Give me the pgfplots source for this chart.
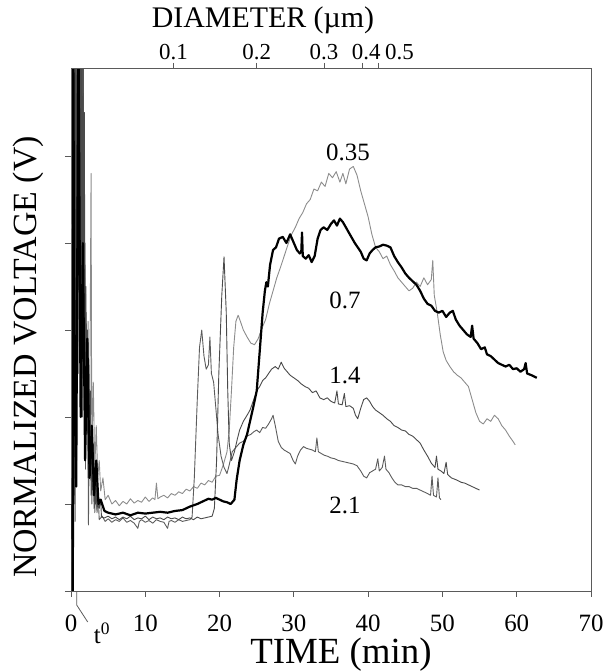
\documentclass[border=0pt]{standalone}
\usepackage{pgfplots}
\pgfplotsset{compat=1.18}
\usepackage{fontspec}
\setmainfont{Liberation Serif}
\definecolor{lg}{HTML}{8C8C8C}
\definecolor{dg}{HTML}{4A4A4A}
\definecolor{mg}{HTML}{5C5C5C}
\definecolor{ax}{HTML}{5A5A5A}
\begin{document}
\begin{tikzpicture}
\begin{axis}[name=ax,
  scale only axis, width=520bp, height=522bp,
  xmin=0, xmax=70, ymin=0, ymax=6,
  xtick={0,10,...,70}, ytick={0,1,...,5}, yticklabels={},
  xtick pos=bottom, ytick pos=left,
  tick align=outside, major tick length=6bp,
  axis line style={ax, line width=1pt}, tick style={ax, line width=0.8pt},
  /pgf/number format/assume math mode=true,
  xticklabel style={font=\fontsize{25}{25}\selectfont, yshift=-14bp},
  every axis plot/.append style={line join=round},
]
% 0.35
\addplot[lg, line width=0.9bp] table {
0.1 1.3
0.15 6.5
0.2 -0.3
0.35 6.5
0.5 1.2
0.7 6.5
0.9 2.5
1.1 6.5
1.3 3.2
1.5 5.0
1.7 2.4
1.9 4.0
2.1 2.0
2.3 3.1
2.5 1.7
2.7 4.8
2.8 1.6
3.0 2.4
3.2 1.4
3.4 1.9
3.6 1.3
3.8 1.5
4.0 1.15
4.3 1.3
4.6 1.05
5.0 1.10
5.5 1.00
6.0 1.04
6.5 0.98
7.0 1.03
7.5 1.00
8.0 1.06
8.5 1.01
9.0 1.04
9.5 1.02
10.0 1.08
10.5 1.03
11.0 1.07
11.3 1.05
11.5 1.24
11.7 1.06
12.0 1.08
12.5 1.10
13.0 1.07
13.5 1.12
14.0 1.10
14.5 1.14
15.0 1.12
15.5 1.17
16.0 1.15
16.5 1.20
17.0 1.18
17.5 1.24
18.0 1.22
18.5 1.27
19.0 1.25
19.5 1.32
20.0 1.33
20.5 1.45
21.0 1.60
21.3 1.85
21.6 2.30
21.9 2.80
22.2 3.10
22.5 3.17
22.8 3.10
23.2 3.00
23.7 2.92
24.2 2.85
24.7 2.83
25.2 2.90
25.7 3.02
26.2 3.12
26.7 3.30
27.2 3.45
27.7 3.60
28.2 3.72
28.7 3.85
29.2 3.98
29.7 4.10
30.2 4.18
30.7 4.28
31.2 4.35
31.7 4.45
32.2 4.50
32.7 4.62
33.2 4.60
33.7 4.70
34.2 4.65
34.7 4.80
35.2 4.75
35.7 4.82
36.2 4.70
36.6 4.80
37.0 4.68
37.5 4.85
38.0 4.88
38.5 4.78
39.0 4.60
39.5 4.45
40.0 4.30
40.5 4.10
41.0 3.95
41.5 3.90
42.0 3.82
42.5 3.85
43.0 3.75
43.5 3.68
44.0 3.60
44.5 3.55
45.0 3.50
45.5 3.45
46.0 3.48
46.5 3.55
47.0 3.50
47.5 3.60
48.0 3.52
48.5 3.58
48.7 3.80
48.9 3.40
49.3 3.20
49.7 2.95
50.1 2.75
50.5 2.65
51.0 2.58
51.5 2.52
52.0 2.48
52.5 2.45
53.0 2.40
53.5 2.35
54.0 2.20
54.5 2.05
55.0 1.95
55.5 1.92
56.0 1.98
56.5 1.95
57.0 2.02
57.5 1.98
58.0 1.90
58.5 1.85
59.0 1.78
59.5 1.72
59.8 1.68
};
% 2.1
\addplot[mg, line width=0.9bp] table {
0.45 6.5
0.55 0.8
0.65 6.5
0.75 1.5
0.85 6.5
0.95 2.5
1.05 6.5
1.15 3.0
1.25 6.5
1.35 3.5
1.45 6.5
1.55 2.0
1.65 6.5
1.75 2.4
1.85 3.6
1.95 1.4
2.05 3.2
2.15 1.9
2.25 2.6
2.35 0.76
2.5 2.2
2.6 1.4
2.7 1.9
2.8 1.0
2.9 1.6
3.0 1.1
3.1 1.45
3.2 0.9
3.35 1.25
3.5 0.95
3.65 1.1
3.8 0.82
4.2 0.86
4.6 0.80
5.0 0.83
5.5 0.79
6.0 0.82
6.5 0.80
7.0 0.84
7.5 0.79
8.0 0.81
8.5 0.78
9.0 0.72
9.2 0.80
9.5 0.82
10.0 0.79
10.5 0.81
11.0 0.78
11.5 0.82
12.0 0.80
12.5 0.79
13.0 0.72
13.2 0.80
13.5 0.81
14.0 0.79
14.5 0.82
15.0 0.80
15.5 0.81
16.0 0.82
16.3 0.85
16.6 1.30
17.0 2.20
17.3 2.80
17.6 3.00
17.9 2.70
18.2 2.55
18.5 2.60
18.7 2.92
18.9 2.50
19.2 2.40
19.5 2.10
19.8 1.80
20.2 1.55
20.6 1.42
21.0 1.35
21.3 1.45
21.7 1.60
22.2 1.65
22.7 1.70
23.2 1.72
23.7 1.78
24.2 1.80
24.6 1.83
25.0 1.85
25.4 1.82
25.8 1.88
26.2 1.87
26.6 1.92
27.0 1.98
27.2 2.02
27.5 1.90
27.9 1.72
28.3 1.65
28.7 1.62
29.1 1.60
29.5 1.58
29.9 1.50
30.2 1.46
30.5 1.55
30.9 1.62
31.3 1.66
31.7 1.64
32.1 1.63
32.5 1.62
32.9 1.60
33.1 1.76
33.3 1.60
33.7 1.58
34.1 1.56
34.5 1.55
35.0 1.53
35.5 1.52
36.0 1.50
36.5 1.49
37.0 1.48
37.5 1.47
38.0 1.46
38.5 1.44
39.0 1.38
39.4 1.32
39.8 1.30
40.2 1.36
40.6 1.38
41.0 1.40
41.3 1.52
41.5 1.38
41.9 1.42
42.2 1.55
42.4 1.40
42.8 1.36
43.2 1.30
43.6 1.25
44.0 1.22
44.5 1.22
45.0 1.20
45.5 1.20
46.0 1.18
46.5 1.18
47.0 1.16
47.5 1.14
48.0 1.12
48.4 1.10
48.6 1.32
48.8 1.10
49.2 1.08
49.4 1.30
49.6 1.07
49.8 1.05
};
% 1.4
\addplot[dg, line width=0.9bp] table {
0.4 6.5
0.5 1.0
0.6 6.5
0.7 2.0
0.8 6.5
0.9 3.0
1.0 6.5
1.1 3.5
1.2 6.5
1.3 4.0
1.4 6.5
1.5 2.5
1.6 6.5
1.7 3.0
1.8 5.5
1.9 1.6
2.0 3.5
2.1 1.8
2.2 3.0
2.3 1.3
2.4 2.6
2.5 1.5
2.6 2.3
2.7 1.1
2.8 1.9
2.9 1.2
3.0 1.7
3.1 0.95
3.2 1.4
3.3 1.0
3.4 1.3
3.5 0.90
3.65 1.15
3.8 0.95
4.0 1.05
4.1 0.85
4.5 0.84
5.0 0.86
5.5 0.83
6.0 0.85
6.5 0.82
7.0 0.85
7.5 0.83
8.0 0.86
8.5 0.82
9.0 0.84
9.5 0.83
10.0 0.86
10.5 0.82
11.0 0.85
11.5 0.83
12.0 0.84
12.5 0.82
13.0 0.85
13.5 0.83
14.0 0.84
14.5 0.82
15.0 0.85
15.5 0.83
16.0 0.84
16.5 0.82
17.0 0.85
17.5 0.83
18.0 0.84
18.5 0.85
19.0 0.86
19.3 0.95
19.6 1.50
19.9 2.50
20.3 3.40
20.6 3.84
20.9 3.20
21.1 2.30
21.3 1.70
21.6 1.50
22.0 1.60
22.4 1.75
22.7 1.85
23.2 1.95
23.7 2.02
24.1 2.08
24.6 2.20
25.0 2.30
25.4 2.35
25.8 2.42
26.2 2.45
26.6 2.50
27.0 2.55
27.5 2.58
27.9 2.55
28.3 2.63
28.7 2.56
29.1 2.52
29.5 2.48
30.0 2.45
30.5 2.42
31.0 2.38
31.5 2.35
32.0 2.33
32.5 2.28
33.0 2.30
33.5 2.22
34.0 2.20
34.5 2.22
35.0 2.18
35.5 2.16
35.8 2.30
36.0 2.15
36.5 2.14
36.8 2.27
37.0 2.12
37.5 2.13
38.0 2.10
38.3 2.02
38.6 1.98
39.0 2.10
39.4 2.20
39.8 2.22
40.2 2.18
40.6 2.12
41.0 2.08
41.5 2.05
42.0 2.02
42.5 1.98
43.0 1.95
43.5 1.90
44.0 1.88
44.5 1.85
45.0 1.84
45.5 1.80
46.0 1.78
46.5 1.74
47.0 1.70
47.5 1.62
48.0 1.55
48.5 1.47
49.0 1.42
49.2 1.55
49.4 1.40
49.8 1.38
50.2 1.35
50.5 1.48
50.7 1.34
51.2 1.30
51.8 1.28
52.5 1.25
53.0 1.24
53.5 1.22
54.0 1.20
54.5 1.18
55.0 1.16
};
% 0.7
\addplot[black, line width=2.2bp] table {
0.2 1.0
0.25 -0.3
0.3 6.5
0.45 3.0
0.7 1.2
1.0 6.5
1.3 2.0
1.6 4.0
1.9 1.5
2.2 2.9
2.5 1.3
2.8 1.9
3.1 1.1
3.4 1.5
3.7 1.0
4.0 1.05
4.5 0.92
5.0 0.90
6.0 0.88
7.0 0.90
8.0 0.87
9.0 0.90
10.0 0.89
11.0 0.90
12.0 0.91
13.0 0.90
14.0 0.92
15.0 0.93
16.0 0.97
17.0 1.00
17.5 1.02
18.0 1.04
18.5 1.06
19.0 1.05
19.5 1.07
20.0 1.05
20.5 1.03
21.0 1.02
21.5 1.00
22.0 1.05
22.3 1.28
22.7 1.50
23.2 1.68
23.7 1.80
24.1 1.95
24.5 2.10
25.0 2.30
25.4 2.75
25.8 3.20
26.1 3.45
26.3 3.55
26.5 3.50
26.8 3.75
27.2 3.92
27.6 3.95
28.0 4.05
28.5 4.07
29.0 4.00
29.5 4.10
29.9 4.02
30.4 3.92
30.8 3.88
31.0 3.90
31.1 4.12
31.2 3.85
31.6 3.82
32.0 3.86
32.4 3.78
32.8 3.85
33.2 4.05
33.6 4.15
34.0 4.18
34.5 4.15
35.0 4.22
35.4 4.26
35.8 4.20
36.2 4.28
36.6 4.24
37.0 4.18
37.4 4.12
37.8 4.06
38.2 4.00
38.6 3.95
39.0 3.90
39.4 3.82
39.8 3.80
40.2 3.88
40.6 3.92
41.0 3.95
41.5 3.96
42.0 3.98
42.5 3.97
43.0 3.95
43.5 3.85
44.0 3.78
44.5 3.72
45.0 3.65
45.5 3.60
46.0 3.56
46.5 3.52
47.0 3.45
47.5 3.36
48.0 3.30
48.5 3.28
49.0 3.22
49.5 3.20
50.0 3.22
50.5 3.15
51.0 3.20
51.4 3.22
51.8 3.12
52.3 3.05
52.8 3.00
53.3 2.95
53.8 2.92
54.0 3.05
54.2 2.90
54.7 2.85
55.2 2.78
55.7 2.80
56.0 2.72
56.5 2.70
57.0 2.66
57.5 2.62
58.0 2.60
58.5 2.58
59.0 2.60
59.5 2.55
60.0 2.56
60.5 2.52
61.0 2.55
61.2 2.62
61.4 2.50
62.0 2.48
62.7 2.45
};
\end{axis}
\begin{axis}[
  scale only axis, width=520bp, height=522bp,
  xmin=0, xmax=70, ymin=0, ymax=6,
  axis x line*=top, axis y line=none,
  xtick={13.8,25,34.05,39.2,41.4},
  xticklabels={0.1,0.2,0.3,\hspace*{8bp}0.4,\hspace*{42bp}0.5},
  tick align=outside, major tick length=6bp,
  axis line style={ax, line width=1pt}, tick style={ax, line width=0.8pt},
  xticklabel style={font=\fontsize{23}{23}\selectfont},
]
\addplot[draw=none] coordinates {(0,0)};
\end{axis}
\node[font=\fontsize{30}{30}\selectfont] at ([xshift=192bp,yshift=49bp]ax.north west) {DIAMETER (µm)};
\node[font=\fontsize{37}{37}\selectfont] at ([xshift=270bp,yshift=-64bp]ax.south west) {TIME (min)};
\node[font=\fontsize{34}{34}\selectfont, rotate=90] at ([xshift=-43bp,yshift=-27bp]ax.west) {NORMALIZED VOLTAGE (V)};
\node[font=\fontsize{25}{25}\selectfont] at ([xshift=31bp,yshift=-42bp]ax.south west) {t$^{\mathrm{0}}$};
\draw[ax, line width=0.8pt] ([xshift=5.7bp]ax.south west) -- ++(0,-14bp) -- ++(11bp,-17bp);
\node[font=\fontsize{25}{25}\selectfont] at ([xshift=277bp,yshift=439bp]ax.south west) {0.35};
\node[font=\fontsize{25}{25}\selectfont] at ([xshift=274bp,yshift=291bp]ax.south west) {0.7};
\node[font=\fontsize{25}{25}\selectfont] at ([xshift=274bp,yshift=216bp]ax.south west) {1.4};
\node[font=\fontsize{25}{25}\selectfont] at ([xshift=274bp,yshift=86bp]ax.south west) {2.1};
\pgfresetboundingbox
\useasboundingbox ([xshift=-71bp,yshift=-80bp]ax.south west) rectangle ([xshift=16bp,yshift=69bp]ax.north east);
\end{tikzpicture}
\end{document}
